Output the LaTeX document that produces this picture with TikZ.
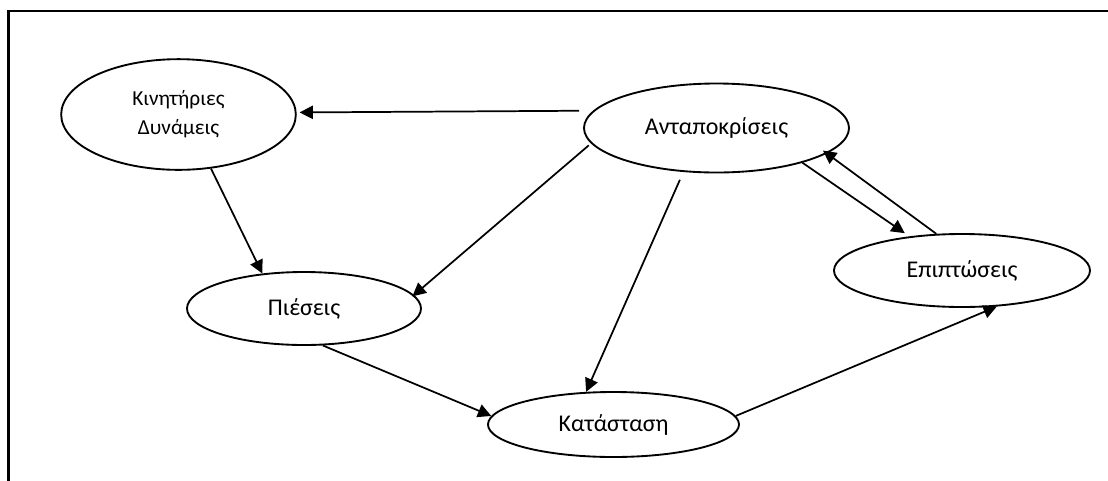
\documentclass[tikz,border=0pt]{standalone}
\usepackage{fontspec}
\setmainfont{Carlito}
\usetikzlibrary{arrows.meta,shapes.geometric}

\tikzset{
  oval/.style={ellipse, draw, line width=1.4pt, inner sep=0pt, align=center,
               font=\fontsize{18}{22}\selectfont},
  link/.style={line width=1.3pt, -{Triangle[length=10pt,width=10pt]}},
  frameline/.style={line width=2pt}
}

\begin{document}
\begin{tikzpicture}[x=0.75pt, y=-0.75pt]
  \useasboundingbox (0,0) rectangle (1108,480);

  % open frame around the diagram
  \draw[frameline] (8.3,482) -- (8.3,11) -- (1110,11);

  % states
  \node[oval, minimum width=176pt, minimum height=83pt,
        font=\fontsize{16}{21.5}\selectfont] (kin) at (178.5,114.5) {Κινητήριες\\Δυνάμεις};
  \node[oval, minimum width=198.75pt, minimum height=66.75pt] (ant) at (716.5,128) {Ανταποκρίσεις};
  \node[oval, minimum width=192pt, minimum height=54.75pt] (epi) at (962,270.5) {Επιπτώσεις};
  \node[oval, minimum width=175.5pt, minimum height=54.75pt] (pie) at (304,308.5) {Πιέσεις};
  \node[oval, minimum width=188.25pt, minimum height=48.75pt] (kat) at (613.5,424.5) {Κατάσταση};

  % influences
  \draw[link, shorten <=10.5pt, shorten >=2.2pt] (ant.172.6) -- (kin.1.2);
  \draw[link] (kin.-59.5) -- (pie.140.6);
  \draw[link, shorten <=2.2pt, shorten >=-1.5pt] (ant.187.4) -- (pie.7.6);
  \draw[link, shorten <=6.4pt] (ant.233.5) -- (kat.130.4);
  \draw[link] (pie.-63.7) -- (kat.176.6);
  \draw[link] (kat.4.2) -- (epi.-46.2);
  \draw[link, shorten >=4.2pt] (ant.-22) -- (epi.147.6);
  \draw[link, shorten >=-3.75pt] (epi.125.5) -- (ant.-13.5);
\end{tikzpicture}
\end{document}
